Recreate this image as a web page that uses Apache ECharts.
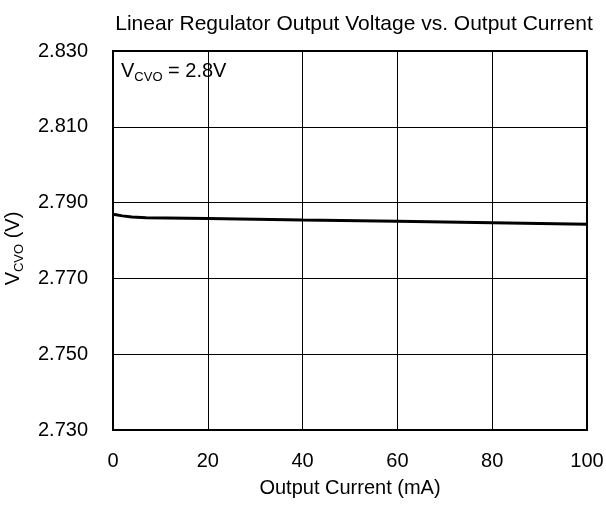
<!DOCTYPE html>
<html>
<head>
<meta charset="utf-8">
<script src="https://cdn.jsdelivr.net/npm/echarts@6/dist/echarts.min.js"></script>
<style>html,body{margin:0;padding:0;background:#fff}#c{width:606px;height:507px}</style>
</head>
<body>
<div id="c"></div>
<script>
const titleText = 'Linear Regulator Output Voltage vs. Output Current';
const xTicks = [0, 20, 40, 60, 80, 100];
const yTicks = [2.730, 2.750, 2.770, 2.790, 2.810, 2.830];
const current = [0, 2, 4, 7, 20, 40, 60, 80, 100];
const voltage = [2.7869, 2.7865, 2.7862, 2.7860, 2.7858, 2.7854, 2.7851, 2.7847, 2.7843];

const font = 'Arial, "Liberation Sans", sans-serif';
const chart = echarts.init(document.getElementById('c'));
const L = 113, R = 587, T = 51, B = 430;
chart.setOption({
  animation: false,
  backgroundColor: '#fff',
  title: {
    text: titleText, left: 349, top: 9, textAlign: 'center',
    textStyle: {fontFamily: font, fontSize: 21, fontWeight: 'normal', color: '#000'}
  },
  grid: {left: L, top: T, width: R - L, height: B - T, show: true, borderColor: '#000', borderWidth: 2,
    containLabel: false, outerBoundsMode: 'none'},
  xAxis: {
    type: 'value', min: xTicks[0], max: xTicks[xTicks.length - 1], interval: 20,
    name: 'Output Current (mA)', nameLocation: 'middle', nameGap: 48,
    nameTextStyle: {fontFamily: font, fontSize: 20, color: '#000'},
    axisLine: {show: false}, axisTick: {show: false},
    axisLabel: {fontFamily: font, fontSize: 20, color: '#000', margin: 21},
    splitLine: {show: true, lineStyle: {color: '#000', width: 1}}
  },
  yAxis: {
    type: 'value', min: yTicks[0], max: yTicks[yTicks.length - 1], interval: 0.02,
    name: '{b|V}{s|CVO}{b| (V)}', nameLocation: 'middle', nameGap: 87, nameRotate: 90,
    nameTextStyle: {
      fontFamily: font, color: '#000', padding: [0, 16, 0, 0],
      rich: {
        b: {fontFamily: font, fontSize: 20, color: '#000', lineHeight: 26, verticalAlign: 'middle'},
        s: {fontFamily: font, fontSize: 13, color: '#000', lineHeight: 26, verticalAlign: 'bottom', padding: [8, 0, 0, 0]}
      }
    },
    axisLine: {show: false}, axisTick: {show: false},
    axisLabel: {fontFamily: font, fontSize: 20, color: '#000', margin: 25,
      formatter: v => v.toFixed(3)},
    splitLine: {show: true, lineStyle: {color: '#000', width: 1}}
  },
  graphic: [{
    type: 'text', left: 121, top: 61, z: 10,
    style: {
      text: '{b|V}{s|CVO}{b| = 2.8V}',
      rich: {
        b: {fontFamily: font, fontSize: 20, fill: '#000', lineHeight: 26, verticalAlign: 'middle'},
        s: {fontFamily: font, fontSize: 13, fill: '#000', lineHeight: 26, verticalAlign: 'bottom', padding: [8, 0, 0, 0]}
      }
    }
  }],
  series: [{
    type: 'line', data: current.map((x, i) => [x, voltage[i]]),
    showSymbol: false, smooth: false,
    lineStyle: {color: '#000', width: 3}
  }]
});
</script>
</body>
</html>
